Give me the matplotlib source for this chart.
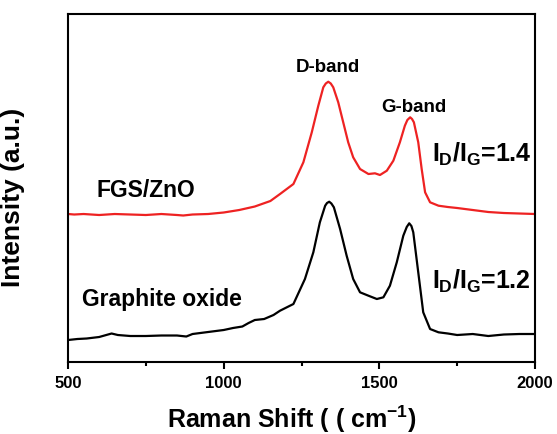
import matplotlib
matplotlib.use("Agg")
import matplotlib.pyplot as plt
from matplotlib.ticker import MultipleLocator

plt.rcParams.update({
    "font.family": ["Liberation Sans", "DejaVu Sans"],
    "font.weight": "bold",
    "axes.labelweight": "bold",
    "mathtext.fontset": "custom",
    "mathtext.rm": "Liberation Sans:bold",
    "mathtext.it": "Liberation Sans:bold",
    "mathtext.bf": "Liberation Sans:bold",
})

# Raman spectra (intensity in arbitrary units)
fgs_shift = [500, 520, 550, 600, 650, 700, 750, 800, 850, 870, 900, 950, 1000,
             1050, 1100, 1150, 1181, 1224, 1256, 1283, 1304, 1320, 1328, 1336,
             1344, 1352, 1368, 1384, 1400, 1416, 1438, 1465, 1486, 1502, 1524,
             1545, 1566, 1582, 1590, 1599, 1605, 1611, 1625, 1636, 1647, 1663,
             1690, 1720, 1750, 1800, 1850, 1900, 1950, 2000]
fgs_int = [148, 147.5, 148, 147, 148, 147.5, 147, 148, 147, 146.5, 147.5, 148,
           149.5, 152, 155.5, 161, 168, 178, 199.7, 229.7, 256.3, 274.7, 278.5,
           280.3, 278.5, 274.7, 259.7, 239.7, 219.7, 204.7, 193, 188, 188.7,
           187, 191.3, 201.3, 219.7, 236.3, 242, 244.7, 243, 239.7, 219.7, 193,
           169.7, 159.7, 156.3, 155, 154, 152, 150, 149, 148.5, 148]

go_shift = [500, 530, 560, 600, 640, 660, 700, 750, 800, 850, 880, 900, 950,
            1000, 1030, 1060, 1080, 1100, 1130, 1160, 1181, 1224, 1261, 1288,
            1309, 1326, 1332, 1339, 1346, 1354, 1374, 1395, 1416, 1438, 1465,
            1492, 1513, 1534, 1556, 1577, 1588, 1596, 1603, 1609, 1625, 1641,
            1663, 1690, 1720, 1750, 1800, 1850, 1900, 1950, 2000]
go_int = [22, 23, 23.5, 25, 28.5, 27, 26, 26, 26.5, 26.5, 25.5, 28, 30, 32, 34,
          35.5, 39, 42, 43, 47, 51.3, 58, 83, 109.7, 139.7, 156.3, 159, 160.3,
          158.5, 154.7, 133, 106.3, 83, 69.7, 66.3, 63, 64.7, 76.3, 99.7,
          126.3, 135, 138.7, 136, 129.7, 89.7, 49.7, 33, 29.7, 28.5, 27, 28,
          26, 27.5, 28, 28]

fig = plt.figure(figsize=(5.57, 4.35), dpi=100)
ax = fig.add_axes([0.1221, 0.1655, 0.8384, 0.8])

ax.plot(fgs_shift, fgs_int, color="#ee2222", lw=1.6)
ax.plot(go_shift, go_int, color="black", lw=1.6)

ax.set_xlim(500, 2000)
ax.set_ylim(0, 348)
ax.xaxis.set_major_locator(MultipleLocator(500))
ax.xaxis.set_minor_locator(MultipleLocator(250))
ax.tick_params(axis="x", which="major", direction="out", length=5, width=1.5,
               labelsize=12, pad=4, top=False)
ax.tick_params(axis="x", which="minor", direction="out", length=3, width=1.5,
               top=False)
for lab in ax.get_xticklabels():
    lab.set_fontweight("bold")
ax.set_yticks([])
for s in ax.spines.values():
    s.set_linewidth(1.5)

# x label sits right at the bottom edge, as in the original
fig.text(0.523, 0.016, "Raman Shift ( ( cm$^{-1}$)", fontsize=18,
         ha="center", va="baseline")
ax.set_ylabel("Intensity (a.u.)", fontsize=19)
ax.yaxis.set_label_coords(-0.092, 0.477)

ax.text(1335, 296, "D-band", fontsize=13.5, ha="center", va="center")
ax.text(1610, 256, "G-band", fontsize=13.5, ha="center", va="center")
ax.text(590, 173, "FGS/ZnO", fontsize=16.5, ha="left", va="center")
ax.text(545, 64, "Graphite oxide", fontsize=16.5, ha="left", va="center")
ax.text(1668, 209, "$I_D/I_G$=1.4", fontsize=18, ha="left", va="center")
ax.text(1668, 82, "$I_D/I_G$=1.2", fontsize=18, ha="left", va="center")

fig.savefig("out.png", dpi=100)
